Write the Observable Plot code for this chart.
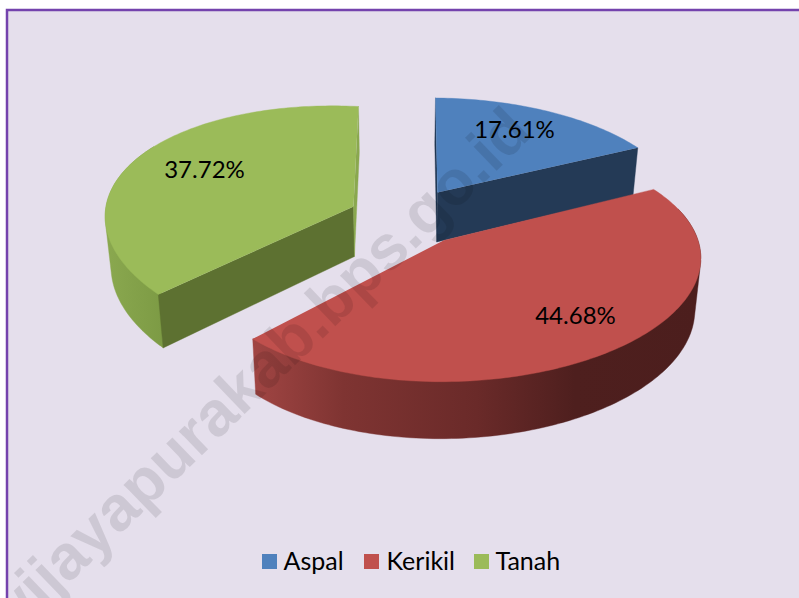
<!DOCTYPE html>
<html>
<head>
<meta charset="utf-8">
<script src="https://cdn.jsdelivr.net/npm/d3@7"></script>
<script src="https://cdn.jsdelivr.net/npm/@observablehq/plot@0.6"></script>
<style>html,body{margin:0;padding:0;background:#fff}svg{display:block}</style>
</head>
<body>
<div id="chart"></div>
<script>
const categories = ["Aspal", "Kerikil", "Tanah"];
const shares = [17.61, 44.68, 37.72];
const labels = ["17.61%", "44.68%", "37.72%"];
const watermark = "wijayapurakab.bps.go.id";

// Styling and layout of the projected, exploded slices
const topColors = ["#4f81bd", "#c0504d", "#9bbb59"];
const faceColors = ["#243a56", "#4c1e1d", "#5d7131"];
const sliverColors = ["#1f3550", null, "#8aa84f"];
const originX = [435, 450, 358];
const originY = [192, 240, 206];
const apexX = [437, 443, 353];
const apexY = [192, 240, 206];
const radiusX = [245, 246, 249];
const radiusY = [112, 115, 118.5];
const skew = [0.008, -0.0175, 0.05];
const labelX = [514, 575, 204];
const labelY = [130, 316, 170];
const legendSwatchX = [262, 364, 474];
const legendTextX = [283, 386, 495];
const perspective = 0.185;

const W = 799, H = 598;
const total = d3.sum(shares);
const ends = Array.from(d3.cumsum(shares), (s) => (s / total) * 2 * Math.PI);
const starts = ends.map((e, i) => (i ? ends[i - 1] : 0));

function rim(i, a) {
  const u = Math.sin(a), v = -Math.cos(a), w = 1 - perspective * v;
  const dx = (radiusX[i] * u) / w, dy = (radiusY[i] * v) / w;
  return {x: originX[i] + dx, y: originY[i] + dy + skew[i] * dx};
}
function lower(p) {
  return {x: p.x + (400 - p.x) * 0.02, y: p.y + 50 + (p.y - 206) * 0.04};
}
function arc(i, a0, a1) {
  const n = Math.max(2, Math.ceil(Math.abs(a1 - a0) / 0.02));
  return d3.range(n + 1).map((k) => rim(i, a0 + ((a1 - a0) * k) / n));
}
const apex = (i) => ({x: apexX[i], y: apexY[i]});
const poly = (pts, color) =>
  Plot.line(pts, {x: "x", y: "y", fill: color, stroke: color, strokeWidth: 0.4, curve: "linear"});
// Outline of a rim wall: the hull of its top and bottom edges, so that the silhouette runs tangent
function wall(side) {
  const hull = d3.polygonHull([...side, ...side.map(lower)].map((p) => [p.x, p.y]));
  return hull.map(([x, y]) => ({x, y}));
}

function sliceMarks(i) {
  const a0 = starts[i], a1 = ends[i], marks = [];
  const A = apex(i), Al = lower(A);
  if (i === 0) {
    const e = rim(i, a1);
    marks.push(poly([A, e, lower(e), Al], faceColors[i]));
    const s = rim(i, a0);
    marks.push(poly([s, lower(s), Al, A], sliverColors[i]));
  }
  if (i === 1) {
    marks.push(poly(wall(arc(i, Math.PI * 0.42, a1)), "url(#redSide)"));
  }
  if (i === 2) {
    marks.push(poly(wall(arc(i, a0, Math.PI * 1.65)), "url(#greenSide)"));
    const s = rim(i, a0);
    marks.push(poly([s, lower(s), Al, A], faceColors[i]));
    const e = rim(i, a1);
    marks.push(poly([e, lower(e), Al, A], sliverColors[i]));
  }
  marks.push(poly([A, ...arc(i, a0, a1)], topColors[i]));
  return marks;
}

const defs = () => {
  const ns = "http://www.w3.org/2000/svg";
  const d = document.createElementNS(ns, "defs");
  const grad = (id, x1, x2, stops) => {
    const g = document.createElementNS(ns, "linearGradient");
    g.setAttribute("id", id);
    g.setAttribute("gradientUnits", "userSpaceOnUse");
    g.setAttribute("x1", x1); g.setAttribute("x2", x2);
    g.setAttribute("y1", 0); g.setAttribute("y2", 0);
    for (const [o, c] of stops) {
      const s = document.createElementNS(ns, "stop");
      s.setAttribute("offset", o); s.setAttribute("stop-color", c);
      g.appendChild(s);
    }
    d.appendChild(g);
  };
  grad("redSide", 253, 700, [[0, "#a04543"], [0.2, "#7f3432"], [0.5, "#6a2a29"], [0.72, "#4e1f1e"], [1, "#4c1e1d"]]);
  grad("greenSide", 106, 165, [[0, "#8aa84f"], [1, "#7c9a44"]]);
  return d;
};

const legend = categories.map((c, i) => ({c, i}));
const fontFamily = "Lato, 'Open Sans', sans-serif";

const chart = Plot.plot({
  width: W, height: H,
  margin: 0,
  x: {domain: [0, W], range: [0, W], axis: null},
  y: {domain: [0, H], range: [0, H], axis: null},
  style: {background: "#ffffff", fontFamily},
  marks: [
    defs,
    Plot.rect([{}], {x1: () => 7, x2: () => 812, y1: () => 10, y2: () => 612, fill: "#e5dfec", stroke: "#7443ad", strokeWidth: 2.5}),
    ...sliceMarks(0),
    ...sliceMarks(2),
    ...sliceMarks(1),
    Plot.text([watermark], {
      x: () => 256, y: () => 374, text: (d) => d, rotate: -44,
      fontSize: 63, fontWeight: 700, fontFamily: "Liberation Sans, Arial, sans-serif",
      fill: "#000", fillOpacity: 0.1, textAnchor: "middle", lineAnchor: "middle"
    }),
    Plot.text(legend, {x: (d) => labelX[d.i], y: (d) => labelY[d.i], text: (d) => labels[d.i], fontSize: 24, fill: "#000", textAnchor: "middle", lineAnchor: "middle"}),
    Plot.rect(legend, {x1: (d) => legendSwatchX[d.i], x2: (d) => legendSwatchX[d.i] + 15, y1: () => 554, y2: () => 569, fill: (d) => topColors[d.i]}),
    Plot.text(legend, {x: (d) => legendTextX[d.i], y: () => 561, text: "c", fontSize: 25, fill: "#000", textAnchor: "start", lineAnchor: "middle"})
  ]
});
document.getElementById("chart").appendChild(chart);
</script>
</body>
</html>
